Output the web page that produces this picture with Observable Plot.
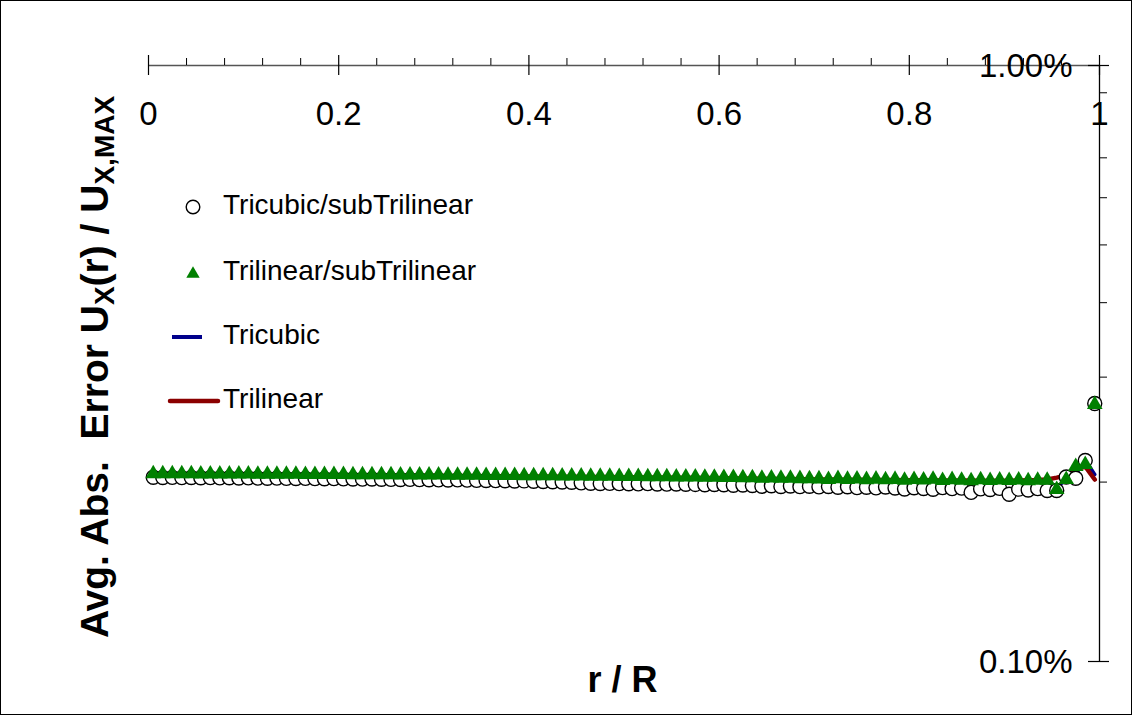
<!DOCTYPE html>
<html>
<head>
<meta charset="utf-8">
<script src="https://cdn.jsdelivr.net/npm/d3@7"></script>
<script src="https://cdn.jsdelivr.net/npm/@observablehq/plot@0.6"></script>
<style>
  html, body { margin: 0; padding: 0; background: #fff; }
  #chart svg { display: block; }
</style>
</head>
<body>
<div id="chart"></div>
<script>
// r / R sample positions
const rPos = [0.005,0.015,0.025,0.035,0.045,0.055,0.065,0.075,0.085,0.095,
  0.105,0.115,0.125,0.135,0.145,0.155,0.165,0.175,0.185,0.195,
  0.205,0.215,0.225,0.235,0.245,0.255,0.265,0.275,0.285,0.295,
  0.305,0.315,0.325,0.335,0.345,0.355,0.365,0.375,0.385,0.395,
  0.405,0.415,0.425,0.435,0.445,0.455,0.465,0.475,0.485,0.495,
  0.505,0.515,0.525,0.535,0.545,0.555,0.565,0.575,0.585,0.595,
  0.605,0.615,0.625,0.635,0.645,0.655,0.665,0.675,0.685,0.695,
  0.705,0.715,0.725,0.735,0.745,0.755,0.765,0.775,0.785,0.795,
  0.805,0.815,0.825,0.835,0.845,0.855,0.865,0.875,0.885,0.895,
  0.905,0.915,0.925,0.935,0.945,0.955,0.965,0.975,0.985,0.995];

// Avg. abs. error in percent
const tricubicSub = [0.2038,0.2036,0.2037,0.2035,0.2036,0.2034,0.2035,0.2033,0.2034,0.2032,
  0.2033,0.2031,0.2030,0.2031,0.2029,0.2028,0.2029,0.2027,0.2026,0.2027,
  0.2025,0.2024,0.2023,0.2024,0.2022,0.2021,0.2020,0.2021,0.2019,0.2018,
  0.2017,0.2016,0.2017,0.2015,0.2013,0.2012,0.2011,0.2010,0.2008,0.2009,
  0.2006,0.2004,0.2003,0.2001,0.1999,0.1994,0.1991,0.1989,0.1990,0.1988,
  0.1987,0.1986,0.1988,0.1985,0.1984,0.1985,0.1983,0.1982,0.1980,0.1981,
  0.1979,0.1976,0.1978,0.1974,0.1968,0.1972,0.1966,0.1970,0.1965,0.1968,
  0.1963,0.1966,0.1960,0.1964,0.1958,0.1961,0.1956,0.1962,0.1955,0.1947,
  0.1957,0.1951,0.1945,0.1958,0.1950,0.1954,0.1922,0.1948,0.1943,0.1952,
  0.1908,0.1946,0.1940,0.1950,0.1936,0.1936,0.2040,0.2030,0.2174,0.2710];

const trilinearSub = [0.2066,0.2066,0.2065,0.2065,0.2065,0.2064,0.2064,0.2064,0.2063,0.2063,
  0.2063,0.2062,0.2062,0.2062,0.2061,0.2061,0.2060,0.2060,0.2060,0.2059,
  0.2059,0.2058,0.2058,0.2058,0.2057,0.2057,0.2056,0.2056,0.2055,0.2055,
  0.2055,0.2054,0.2054,0.2053,0.2053,0.2052,0.2052,0.2051,0.2051,0.2050,
  0.2050,0.2049,0.2049,0.2048,0.2048,0.2047,0.2046,0.2046,0.2045,0.2044,
  0.2044,0.2043,0.2042,0.2042,0.2041,0.2040,0.2040,0.2039,0.2038,0.2037,
  0.2036,0.2035,0.2034,0.2033,0.2030,0.2031,0.2029,0.2030,0.2027,0.2026,
  0.2025,0.2020,0.2027,0.2021,0.2024,0.2019,0.2023,0.2018,0.2021,0.2015,
  0.2020,0.2016,0.2022,0.2013,0.2019,0.2014,0.2010,0.2018,0.2012,0.2016,
  0.2013,0.2017,0.2011,0.2015,0.2014,0.1943,0.2020,0.2124,0.2141,0.2700];

const tricubic = [0.2039,0.2037,0.2036,0.2036,0.2035,0.2035,0.2034,0.2034,0.2033,0.2033,
  0.2032,0.2031,0.2031,0.2030,0.2029,0.2029,0.2028,0.2027,0.2027,0.2026,
  0.2025,0.2024,0.2024,0.2023,0.2022,0.2021,0.2021,0.2020,0.2019,0.2018,
  0.2017,0.2016,0.2016,0.2015,0.2014,0.2013,0.2012,0.2011,0.2009,0.2008,
  0.2006,0.2005,0.2003,0.2001,0.1999,0.1996,0.1993,0.1991,0.1990,0.1989,
  0.1988,0.1987,0.1986,0.1985,0.1985,0.1984,0.1983,0.1982,0.1981,0.1980,
  0.1978,0.1977,0.1975,0.1973,0.1971,0.1970,0.1968,0.1967,0.1966,0.1965,
  0.1964,0.1963,0.1962,0.1961,0.1960,0.1959,0.1958,0.1957,0.1955,0.1953,
  0.1952,0.1951,0.1950,0.1950,0.1949,0.1948,0.1940,0.1945,0.1944,0.1943,
  0.1930,0.1940,0.1936,0.1942,0.1945,0.1950,0.2030,0.2060,0.2180,0.2060];

const trilinear = [0.2060,0.2060,0.2059,0.2059,0.2059,0.2058,0.2058,0.2058,0.2057,0.2057,
  0.2057,0.2056,0.2056,0.2056,0.2055,0.2055,0.2054,0.2054,0.2054,0.2053,
  0.2053,0.2052,0.2052,0.2052,0.2051,0.2051,0.2050,0.2050,0.2049,0.2049,
  0.2049,0.2048,0.2048,0.2047,0.2047,0.2046,0.2046,0.2045,0.2045,0.2044,
  0.2044,0.2043,0.2043,0.2042,0.2042,0.2041,0.2040,0.2040,0.2039,0.2038,
  0.2038,0.2037,0.2036,0.2036,0.2035,0.2034,0.2034,0.2033,0.2032,0.2031,
  0.2030,0.2029,0.2028,0.2027,0.2026,0.2025,0.2024,0.2024,0.2023,0.2022,
  0.2021,0.2020,0.2020,0.2019,0.2018,0.2018,0.2017,0.2016,0.2016,0.2015,
  0.2015,0.2014,0.2014,0.2013,0.2013,0.2012,0.2012,0.2011,0.2011,0.2010,
  0.2010,0.2012,0.2014,0.2016,0.2020,0.2035,0.2052,0.2100,0.2124,0.2020];

// ticks
const xTicks = [0, 0.2, 0.4, 0.6, 0.8, 1];
const xTickLabels = ["0", "0.2", "0.4", "0.6", "0.8", "1"];
const xMinorTicks = [0.04,0.08,0.12,0.16,0.24,0.28,0.32,0.36,0.44,0.48,0.52,0.56,0.64,0.68,0.72,0.76,0.84,0.88,0.92,0.96];
const yTicks = [0.1, 1.0];
const yTickLabels = ["0.10%", "1.00%"];
const yMinorTicks = [0.2,0.3,0.4,0.5,0.6,0.7,0.8,0.9];

const seriesNames = ["Tricubic/subTrilinear", "Trilinear/subTrilinear", "Tricubic", "Trilinear"];
const seriesColors = ["#000000", "#008000", "#00008b", "#8b0000"];

const rows = rPos.map((r, i) => ({r, tcs: tricubicSub[i], tls: trilinearSub[i], tc: tricubic[i], tl: trilinear[i]}));

const W = 1133, H = 717;
const mL = 148, mR = 34, mT = 65, mB = 56;
const frameW = W - mL - mR, frameH = H - mT - mB;
const FONT = "'Liberation Sans', Arial, Helvetica, sans-serif";

const chart = Plot.plot({
  width: W, height: H,
  marginLeft: mL, marginRight: mR, marginTop: mT, marginBottom: mB,
  style: {fontFamily: FONT, background: "white", overflow: "visible"},
  x: {domain: [0, 1], axis: null},
  y: {type: "log", domain: [0.1, 1.0], axis: null},
  marks: [
    // top x axis line and right y axis line
    Plot.ruleY([1.0], {x1: 0, x2: 1, stroke: "#555", strokeWidth: 1.5}),
    Plot.ruleX([1.0], {y1: 0.1, y2: 1.0, stroke: "#000", strokeWidth: 1.3}),
    // x ticks
    Plot.tickX(xTicks, {x: d => d, insetTop: -10, insetBottom: frameH - 10, stroke: "#000", strokeWidth: 1.2}),
    Plot.tickX(xMinorTicks, {x: d => d, insetTop: -7, insetBottom: frameH, stroke: "#000", strokeWidth: 1}),
    Plot.text(xTicks, {x: d => d, frameAnchor: "top", lineAnchor: "middle", dy: 49, text: (d, i) => xTickLabels[i], fontSize: 33, fill: "#000"}),
    // y ticks
    Plot.tickY(yTicks, {y: d => d, insetLeft: frameW - 11, insetRight: -10, stroke: "#000", strokeWidth: 1.2}),
    Plot.tickY(yMinorTicks, {y: d => d, insetLeft: frameW, insetRight: -8, stroke: "#000", strokeWidth: 1}),
    Plot.text(yTicks, {y: d => d, frameAnchor: "right", lineAnchor: "middle", dx: -27, dy: 1, textAnchor: "end", text: (d, i) => yTickLabels[i], fontSize: 33, fill: "#000"}),
    // data
    Plot.line(rows, {x: "r", y: "tc", stroke: seriesColors[2], strokeWidth: 3.5}),
    Plot.line(rows, {x: "r", y: "tl", stroke: seriesColors[3], strokeWidth: 4.5}),
    Plot.dot(rows, {x: "r", y: "tcs", r: 7, stroke: seriesColors[0], fill: "white", strokeWidth: 1.4}),
    Plot.dot(rows, {x: "r", y: "tls", symbol: "triangle", r: 5.8, fill: seriesColors[1], stroke: "none"})
  ]
});

document.getElementById("chart").appendChild(chart);

const svg = d3.select(chart);

// outer border
svg.append("rect").attr("x", 0.5).attr("y", 0.5).attr("width", W - 2).attr("height", H - 3)
  .attr("fill", "none").attr("stroke", "#000").attr("stroke-width", 1);

// axis titles
svg.append("text")
  .attr("x", mL + frameW * 0.5 - 1).attr("y", 682)
  .attr("text-anchor", "middle").attr("dominant-baseline", "middle")
  .attr("font-family", FONT).attr("font-weight", "bold").attr("font-size", 36)
  .text("r / R");

const yt = svg.append("text")
  .attr("transform", "translate(108,367) rotate(-90)")
  .attr("text-anchor", "middle")
  .attr("font-family", FONT).attr("font-weight", "bold").attr("font-size", 39)
  .attr("xml:space", "preserve");
yt.append("tspan").text("Avg. Abs.\u00a0 Error U");
yt.append("tspan").attr("font-size", 28).attr("dy", 6).text("X");
yt.append("tspan").attr("dy", -6).text("(r) / U");
yt.append("tspan").attr("font-size", 28).attr("dy", 6).text("X,MAX");

// legend
const lg = svg.append("g").attr("font-family", FONT).attr("font-size", 28).attr("text-anchor", "start");
const legendY = [207, 273, 337, 401];
lg.append("circle").attr("cx", 193).attr("cy", legendY[0]).attr("r", 6.8).attr("fill", "white").attr("stroke", seriesColors[0]).attr("stroke-width", 1.4);
lg.append("path").attr("d", d3.symbol(d3.symbolTriangle, 78)()).attr("transform", `translate(193,${legendY[1] + 1})`).attr("fill", seriesColors[1]);
lg.append("line").attr("x1", 172).attr("x2", 202).attr("y1", legendY[2]).attr("y2", legendY[2]).attr("stroke", seriesColors[2]).attr("stroke-width", 4);
lg.append("line").attr("x1", 170).attr("x2", 218).attr("y1", legendY[3]).attr("y2", legendY[3]).attr("stroke", seriesColors[3]).attr("stroke-width", 4.5).attr("stroke-linecap", "round");
seriesNames.forEach((name, i) => {
  lg.append("text").attr("x", 223).attr("y", legendY[i]).attr("dominant-baseline", "middle").attr("text-anchor", "start").text(name);
});
</script>
</body>
</html>
